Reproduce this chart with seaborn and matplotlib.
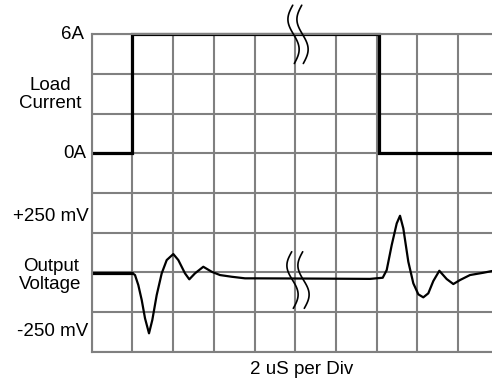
import numpy as np
import pandas as pd
import matplotlib
matplotlib.use("Agg")
import matplotlib.pyplot as plt
import seaborn as sns

# ---- data (grid divisions; 2 uS per horizontal division) ----
current_x = [0.0, 1.0, 1.0, 7.06, 7.06, 9.84]
current_y = [5.0, 5.0, 8.0, 8.0, 5.0, 5.0]

vbase_x = [0.0, 0.983]
vbase_y = [1.99, 1.99]

volt_x = [0.983, 1.064, 1.145, 1.229, 1.310, 1.408, 1.489, 1.597, 1.720, 1.843,
          2.005, 2.128, 2.292, 2.398, 2.538, 2.742, 2.948, 3.152, 3.440, 3.767,
          4.012, 5.0, 6.0, 6.838, 7.150, 7.248, 7.371, 7.494, 7.575, 7.656,
          7.779, 7.902, 8.025, 8.147, 8.270, 8.393, 8.541, 8.722, 8.885, 9.049,
          9.294, 9.622, 9.835]
volt_y = [1.990, 1.932, 1.680, 1.302, 0.841, 0.463, 0.798, 1.428, 1.975, 2.310,
          2.461, 2.310, 1.975, 1.824, 1.975, 2.141, 2.015, 1.932, 1.889, 1.849,
          1.849, 1.845, 1.840, 1.835, 1.864, 2.058, 2.688, 3.234, 3.426, 3.108,
          2.267, 1.723, 1.446, 1.370, 1.471, 1.781, 2.040, 1.831, 1.705, 1.806,
          1.932, 1.990, 2.033]

x_ticks = list(range(0, 10))
y_ticks = list(range(0, 9))

labels = ["6A", "0A", "Load\nCurrent", "+250 mV", "Output\nVoltage", "-250 mV"]
label_x = [-0.20, -0.14, -1.02, -0.08, -1.01, -0.08]
label_y = [8.0, 5.0, 6.49, 3.40, 1.92, 0.50]
label_ha = ["right", "right", "center", "right", "center", "right"]
xlabel_text = "2 uS per Div"

# break marks: (x_top of first curve, y_top, y_bottom, gap between curves)
breaks = [(4.939, 8.733, 7.264, 0.221), (4.914, 2.519, 1.093, 0.27)]

sns.set_style("white")
plt.rcParams['font.family'] = ['Liberation Sans', 'DejaVu Sans']

fig = plt.figure(figsize=(4.92, 3.81), dpi=100)
ax = fig.add_axes([91.7 / 492, 29.3 / 381, 400.3 / 492, 317.4 / 381])
ax.set_xlim(0, 9.835)
ax.set_ylim(0, 8)

grid_c = "#808080"
ax.set_xticks(x_ticks)
ax.set_yticks(y_ticks)
ax.grid(True, color=grid_c, linewidth=1.5)
ax.tick_params(length=0, labelbottom=False, labelleft=False)
for s in ["left", "bottom", "top"]:
    ax.spines[s].set_color(grid_c)
    ax.spines[s].set_linewidth(1.5)
ax.spines["right"].set_visible(False)
ax.set_axisbelow(True)

df_c = pd.DataFrame({"x": current_x, "y": current_y})
sns.lineplot(data=df_c, x="x", y="y", sort=False, estimator=None, color="black",
             linewidth=2.3, ax=ax, clip_on=False, solid_joinstyle="miter")
df_b = pd.DataFrame({"x": vbase_x, "y": vbase_y})
sns.lineplot(data=df_b, x="x", y="y", sort=False, estimator=None, color="black",
             linewidth=2.3, ax=ax, clip_on=False)
df_v = pd.DataFrame({"x": volt_x, "y": volt_y})
sns.lineplot(data=df_v, x="x", y="y", sort=False, estimator=None, color="black",
             linewidth=1.6, ax=ax, clip_on=False, solid_joinstyle="round")

# break symbols
t = np.linspace(0, 1, 60)
px = 40.7
for (xt, yt, yb, gap) in breaks:
    for k in range(2):
        bx = xt + k * gap + (1.6 * t - 5.2 * np.sin(2 * np.pi * t)) / px
        by = yt - (yt - yb) * t
        ax.plot(bx, by, color="black", linewidth=1.2, clip_on=False, zorder=5)

for txt, x, y, ha in zip(labels, label_x, label_y, label_ha):
    ax.text(x, y, txt, ha=ha, va="center", fontsize=13.5, color="black",
            linespacing=1.05, clip_on=False)
ax.text(5.15, -0.46, xlabel_text, ha="center", va="center", fontsize=13.5,
        color="black", clip_on=False)

ax.set_xlabel("")
ax.set_ylabel("")
fig.savefig("out.png", dpi=100)
